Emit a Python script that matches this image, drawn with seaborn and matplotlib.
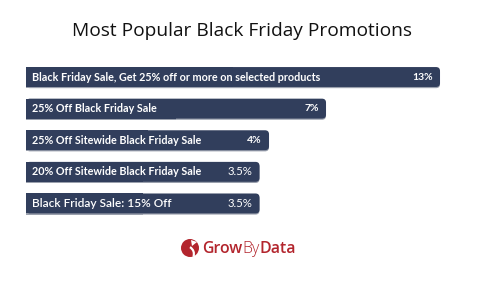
import matplotlib
matplotlib.use("Agg")
import matplotlib.pyplot as plt
import matplotlib.patches as mpatches
import matplotlib.transforms as mtransforms
import seaborn as sns
import pandas as pd

categories = [
    "Black Friday Sale, Get 25% off or more on selected products",
    "25% Off Black Friday Sale",
    "25% Off Sitewide Black Friday Sale",
    "20% Off Sitewide Black Friday Sale",
    "Black Friday Sale: 15% Off",
]
values = [13, 7, 4, 3.5, 3.5]
value_labels = ["13%", "7%", "4%", "3.5%", "3.5%"]

BAR = "#313e5c"
BASE = -8.79

sns.set_theme(style="white")
plt.rcParams["font.family"] = ["Lato", "DejaVu Sans"]

fig = plt.figure(figsize=(4.85, 2.84), dpi=100)
ax = fig.add_axes([26 / 485, 0.228, 440 / 485, 0.5565])

df = pd.DataFrame({"promo": categories, "value": values})
sns.barplot(data=df, x="value", y="promo", orient="h", color=BAR, width=0.63,
            saturation=1, ax=ax)

px_x = 19.0   # pixels per x unit
px_y = 31.6   # pixels per y unit
ax.set_xlim(BASE, BASE + 440 / px_x)
ax.set_ylim(4.5, -0.5)
ax.axis("off")

r = 4 / px_x
shadow = mtransforms.offset_copy(ax.transData, fig=fig, x=0, y=-1.2, units="dots")

for i, p in enumerate(list(ax.patches)):
    y0 = p.get_y()
    h = p.get_height()
    v = values[i]
    p.set_visible(False)
    w = v - BASE
    for tr, col, z in [(shadow, "#9aa0ad", 1), (ax.transData, BAR, 2)]:
        rb = mpatches.FancyBboxPatch((BASE, y0), w, h,
                                     boxstyle=f"round,pad=0,rounding_size={r}",
                                     mutation_aspect=px_x / px_y,
                                     facecolor=col, edgecolor="none",
                                     transform=tr, zorder=z)
        ax.add_patch(rb)
        sq = mpatches.Rectangle((BASE, y0), w / 2, h, facecolor=col,
                                edgecolor="none", transform=tr, zorder=z)
        ax.add_patch(sq)
    big = i == 4
    ax.text(BASE + 6 / px_x, i, categories[i], color="white",
            fontsize=8.6 if big else 7.75, fontweight="semibold" if big else "bold",
            va="center", ha="left", zorder=5)
    ax.text(v - 7 / px_x, i, value_labels[i], color="white",
            fontsize=8.2 if i >= 3 else 7.5,
            fontweight="normal" if i >= 3 else "bold",
            va="center", ha="right", zorder=5)

fig.text(0.5, 1 - 31 / 284, "Most Popular Black Friday Promotions",
         ha="center", va="center", fontsize=13.8, color="#111111",
         fontweight="medium", family=["Open Sans", "DejaVu Sans"])

# Logo
lax = fig.add_axes([0, 0, 1, 1], zorder=-1)
lax.set_xlim(0, 485)
lax.set_ylim(284, 0)
lax.axis("off")
RED = "#b3252d"
lax.add_patch(mpatches.Circle((190, 248), 9, facecolor=RED, edgecolor="none"))
lax.add_patch(mpatches.Wedge((186, 254), 9, 300, 20, width=2.2,
                             facecolor="white", edgecolor="none"))
lax.add_patch(mpatches.Polygon([[191, 240], [197, 242], [192, 246]],
                               facecolor="white", edgecolor="none"))

renderer = fig.canvas.get_renderer()
xpos = 202.0
for part, wt in [("Grow", "semibold"), ("By", "light"), ("Data", "semibold")]:
    t = lax.text(xpos, 249, part, color=RED, fontsize=11.4, va="center",
                 ha="left", family=["Open Sans", "DejaVu Sans"], fontweight=wt)
    bb = t.get_window_extent(renderer=renderer)
    xpos += bb.width  # figure pixels equal data units here

fig.savefig("out.png", dpi=100, facecolor="white")
